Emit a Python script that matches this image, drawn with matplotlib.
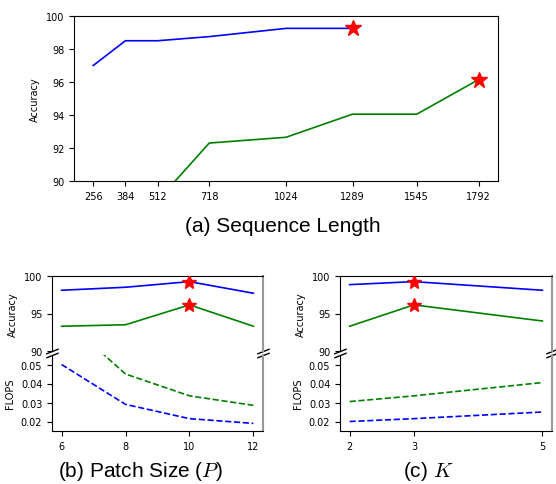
import numpy as np
import matplotlib
matplotlib.use("Agg")
import matplotlib.pyplot as plt

plt.rcParams["mathtext.fontset"] = "cm"

# --- datos ---
seq_len = [256, 384, 512, 718, 1024, 1289, 1545, 1792]
seq_ticks = [256, 384, 512, 718, 1024, 1289, 1545, 1792]
seq_acc_blue = [97.0, 98.5, 98.5, 98.75, 99.25, 99.25]
seq_acc_green = [80.0, 85.0, 88.8, 92.3, 92.65, 94.05, 94.05, 96.15]

patch = [6, 8, 10, 12]
patch_acc_blue = [98.1, 98.5, 99.25, 97.7]
patch_acc_green = [93.3, 93.5, 96.15, 93.3]
patch_flops_blue = [0.050, 0.029, 0.0215, 0.019]
patch_flops_green = [0.075, 0.045, 0.0335, 0.0285]

k_vals = [2, 3, 5]
k_acc_blue = [98.85, 99.25, 98.1]
k_acc_green = [93.3, 96.15, 94.0]
k_flops_blue = [0.020, 0.0215, 0.025]
k_flops_green = [0.0305, 0.0335, 0.0405]

W, H = 556, 485
fig = plt.figure(figsize=(W / 100, H / 100), dpi=100)
LW = 1.2
TICK_FS = 7
CAP_FS = 15


def box(x0, y0, x1, y1):
    # caja en pixeles -> fraccion de figura
    return [x0 / W, 1 - y1 / H, (x1 - x0) / W, (y1 - y0) / H]


def mark_best(ax, xs, ys, ms):
    # estrella en el ultimo maximo
    ys = np.asarray(ys)
    i = len(ys) - 1 - int(np.argmax(ys[::-1]))
    ax.plot(xs[i], ys[i], marker="*", color="red", markersize=ms, linestyle="none", zorder=5)


# --- (a) Sequence Length ---
ax = fig.add_axes(box(74, 17, 498, 182))
ax.plot(seq_len[:len(seq_acc_blue)], seq_acc_blue, color="blue", lw=LW)
ax.plot(seq_len, seq_acc_green, color="green", lw=LW)
mark_best(ax, seq_len[:len(seq_acc_blue)], seq_acc_blue, 12)
mark_best(ax, seq_len, seq_acc_green, 12)
ax.set_ylim(90, 100)
ax.set_yticks([90, 92, 94, 96, 98, 100])
ax.set_xticks(seq_ticks)
ax.set_ylabel("Accuracy", fontsize=TICK_FS)
ax.tick_params(labelsize=TICK_FS)
fig.text(283 / W, 1 - 226 / H, "(a) Sequence Length", ha="center", va="center",
         fontsize=CAP_FS, family="Liberation Sans")


def broken_panel(x0, x1, xs, acc_b, acc_g, fl_b, fl_g, caption, cx):
    top = fig.add_axes(box(x0, 277, x1, 352))
    bot = fig.add_axes(box(x0, 356, x1, 432), sharex=top)

    top.plot(xs, acc_b, color="blue", lw=LW)
    top.plot(xs, acc_g, color="green", lw=LW)
    mark_best(top, xs, acc_b, 10)
    mark_best(top, xs, acc_g, 10)
    top.set_ylim(90, 100)
    top.set_yticks([90, 95, 100])
    top.set_ylabel("Accuracy", fontsize=TICK_FS)

    bot.plot(xs, fl_b, color="blue", lw=LW, linestyle="--")
    bot.plot(xs, fl_g, color="green", lw=LW, linestyle="--")
    bot.set_ylim(0.015, 0.055)
    bot.set_yticks([0.02, 0.03, 0.04, 0.05])
    bot.set_ylabel("FLOPS", fontsize=TICK_FS)
    bot.set_xticks(xs)

    top.spines["bottom"].set_visible(False)
    bot.spines["top"].set_visible(False)
    top.tick_params(axis="x", bottom=False, labelbottom=False)
    for a in (top, bot):
        a.tick_params(labelsize=TICK_FS)
        a.spines["right"].set_color("#999999")
        a.spines["right"].set_linewidth(1.5)

    kw = dict(marker=[(-1, -0.4), (1, 0.4)], markersize=9, linestyle="none",
              color="k", mec="k", mew=1, clip_on=False)
    top.plot([0, 1], [0, 0], transform=top.transAxes, **kw)
    bot.plot([0, 1], [1, 1], transform=bot.transAxes, **kw)

    fig.text(cx / W, 1 - 472 / H, caption, ha="center", va="center",
             fontsize=CAP_FS, family="Liberation Sans")


broken_panel(52, 263, patch, patch_acc_blue, patch_acc_green,
             patch_flops_blue, patch_flops_green, "(b) Patch Size ($P$)", 140)
broken_panel(340, 552, k_vals, k_acc_blue, k_acc_green,
             k_flops_blue, k_flops_green, "(c) $K$", 428)

plt.savefig("out.png", dpi=100)
